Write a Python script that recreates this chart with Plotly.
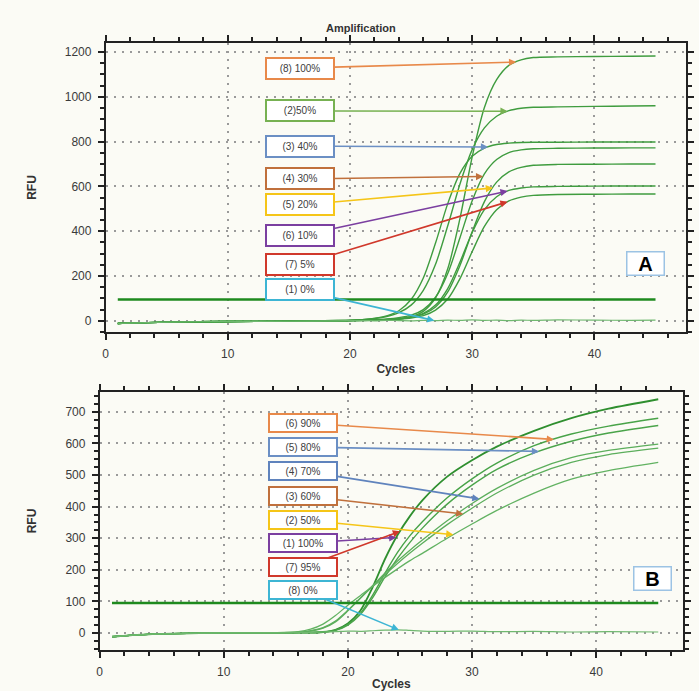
import numpy as np
import plotly.graph_objects as go

# ---------------- Panel A data (RFU per cycle) ----------------
cycles_a = [1, 5, 10, 15, 19, 21, 22, 23, 24, 25, 26, 27, 28, 29, 30, 31, 32, 33, 34, 35, 37, 40, 43, 45]
a_curve1 = [-12, -6, -3, -2, 0, 2, 3, 4, 8, 18, 42, 102, 232, 457, 732, 952, 1076, 1140, 1165, 1175, 1178, 1180, 1181, 1182]
a_curve2 = [-12, -6, -3, -2, 1, 5, 10, 19, 36, 70, 136, 252, 424, 611, 764, 861, 913, 938, 949, 953, 955, 957, 959, 960]
a_curve3 = [-12, -6, -3, -2, 1, 5, 11, 22, 45, 95, 191, 347, 523, 658, 734, 771, 787, 793, 796, 797, 797, 798, 798, 798]
a_curve4 = [-12, -6, -3, -2, 0, 3, 5, 8, 14, 25, 50, 105, 211, 371, 536, 656, 720, 751, 763, 768, 770, 771, 772, 772]
a_curve5 = [-12, -6, -3, -2, 0, 2, 3, 5, 9, 16, 30, 62, 129, 247, 397, 532, 619, 665, 685, 694, 698, 699, 700, 700]
a_curve6 = [-12, -6, -3, -2, 0, 2, 4, 6, 10, 17, 33, 70, 144, 262, 394, 496, 554, 582, 593, 598, 600, 601, 602, 602]
a_curve7 = [-12, -6, -3, -2, 0, 1, 3, 4, 7, 12, 23, 48, 97, 188, 309, 421, 496, 535, 552, 560, 564, 565, 566, 566]
a_negative = [-12, -6, -3, -2, 0, 1, 0, 2, 1, 0, 2, 1, 3, 2, 4, 2, 3, 1, 3, 2, 4, 3, 2, 3]
a_curves = [a_curve1, a_curve2, a_curve3, a_curve4, a_curve5, a_curve6, a_curve7]
a_threshold = 95

a_labels = ["(8) 100%", "(2)50%", "(3) 40%", "(4) 30%", "(5) 20%", "(6) 10%", "(7) 5%", "(1) 0%"]
a_targets = [(0, 33.6), (1, 32.9), (2, 31.3), (3, 30.9), (4, 31.7), (5, 32.9), (6, 32.9), (-1, 26.9)]

# ---------------- Panel B data ----------------
cycles_b = [1, 3, 6, 10, 14, 16, 17, 18, 19, 20, 21, 22, 23, 24, 25, 26, 28, 30, 32, 35, 38, 41, 45]
b_curve1 = [-12, -6, -2, 0, 0, 1, 1, 3, 10, 30, 70, 145, 235, 310, 370, 420, 495, 547, 590, 640, 680, 710, 740]
b_curve2 = [-12, -6, -2, 0, 0, 1, 1, 3, 9, 27, 62, 120, 190, 255, 308, 352, 428, 488, 538, 593, 630, 655, 680]
b_curve3 = [-12, -6, -2, 0, 0, 1, 1, 3, 8, 25, 58, 112, 178, 236, 287, 332, 408, 468, 518, 570, 607, 633, 657]
b_curve4 = [-12, -6, -2, 0, 0, 2, 6, 15, 35, 70, 110, 150, 190, 228, 262, 294, 355, 410, 458, 515, 555, 578, 598]
b_curve5 = [-12, -6, -2, 0, 0, 2, 7, 17, 38, 72, 110, 148, 185, 220, 253, 284, 343, 395, 443, 500, 540, 565, 585]
b_curve6 = [-12, -6, -2, 0, 1, 4, 12, 28, 55, 88, 118, 148, 176, 203, 229, 252, 300, 345, 388, 443, 487, 514, 540]
b_negative = [-12, -6, -2, 0, 0, 1, 2, 3, 4, 6, 5, 7, 9, 10, 8, 6, 5, 6, 4, 5, 3, 4, 3]
b_curves = [b_curve1, b_curve2, b_curve3, b_curve4, b_curve5, b_curve6]
b_threshold = 95

b_labels = ["(6) 90%", "(5) 80%", "(4) 70%", "(3) 60%", "(2) 50%", "(1) 100%", "(7) 95%", "(8) 0%"]
b_targets = [(1, 36.6), (2, 35.4), (3, 30.6), (4, 29.3), (5, 28.5), (0, 23.9), (0, 24.2), (-1, 24.1)]

# ---------------- styling ----------------
label_colors_a = ["#e8894a", "#77b152", "#6b8fc4", "#c0703c", "#f5c518", "#7b3fa0", "#d0382b", "#3db5d4"]
label_colors_b = ["#e8894a", "#6b8fc4", "#5f83bd", "#c0703c", "#f5c518", "#7b3fa0", "#d0382b", "#3db5d4"]
box_x_a, box_y_a = 15.9, [1128, 937, 780, 633, 517, 379, 250, 138]
box_x_b, box_y_b = 16.4, [665, 589, 513, 434, 358, 285, 209, 136]
curve_green = "#3f9c3f"
thresh_green = "#1e8a1e"
bg = "#fbfbf5"
font_family = "Liberation Sans, Arial"

fig = go.Figure()

def add_panel(cycles, curves, negative, threshold, xa, ya, widths, colors):
    for vals, w, c in zip(curves, widths, colors):
        fig.add_trace(go.Scatter(x=cycles, y=vals, mode="lines", xaxis=xa, yaxis=ya,
                                 line=dict(color=c, width=w, shape="spline", smoothing=0.8),
                                 showlegend=False, hoverinfo="skip"))
    fig.add_trace(go.Scatter(x=cycles, y=negative, mode="lines", xaxis=xa, yaxis=ya,
                             line=dict(color="#6fb86f", width=1.2, shape="spline", smoothing=0.8),
                             showlegend=False, hoverinfo="skip"))
    fig.add_trace(go.Scatter(x=[cycles[0], cycles[-1]], y=[threshold, threshold], mode="lines",
                             xaxis=xa, yaxis=ya, line=dict(color=thresh_green, width=2.6),
                             showlegend=False, hoverinfo="skip"))

add_panel(cycles_a, a_curves, a_negative, a_threshold, "x", "y",
          [1.4] * 7, [curve_green] * 7)
add_panel(cycles_b, b_curves, b_negative, b_threshold, "x2", "y2",
          [1.8, 1.4, 1.4, 1.3, 1.3, 1.3],
          ["#2f8f2f", "#48a348", "#4aa44a", "#5cae5c", "#5cae5c", "#62b262"])

annotations = []

def add_labels(labels, targets, curves, negative, cycles, colors, bx, bys, xr, yr, h):
    for text, (ci, tx), col, by in zip(labels, targets, colors, bys):
        series = negative if ci < 0 else curves[ci]
        ty = float(np.interp(tx, cycles, series))
        annotations.append(dict(
            x=tx, y=ty, xref=xr, yref=yr, ax=bx, ay=by, axref=xr, ayref=yr,
            text=text, showarrow=True, arrowhead=2, arrowsize=0.9, arrowwidth=1.6,
            arrowcolor=col, bordercolor=col, borderwidth=2, borderpad=2,
            bgcolor="white", width=62, height=h,
            font=dict(family=font_family, size=10, color="#404040")))

add_labels(a_labels, a_targets, a_curves, a_negative, cycles_a, label_colors_a,
           box_x_a, box_y_a, "x", "y", 15)
add_labels(b_labels, b_targets, b_curves, b_negative, cycles_b, label_colors_b,
           box_x_b, box_y_b, "x2", "y2", 12)

# panel letters
for letter, lx, ly, xr, yr in [("A", 44.2, 254, "x", "y"), ("B", 44.5, 174, "x2", "y2")]:
    annotations.append(dict(x=lx, y=ly, xref=xr, yref=yr, text="<b>%s</b>" % letter, showarrow=False,
                            bordercolor="#9cc3e4", borderwidth=1.5, bgcolor="white", width=34, height=20,
                            font=dict(family=font_family, size=20, color="black")))

annotations.append(dict(x=360 / 699, y=1 - 28 / 691, xref="paper", yref="paper",
                        xanchor="center", yanchor="middle",
                        text="<b>Amplification</b>", showarrow=False,
                        font=dict(family=font_family, size=11, color="#333")))

axis_common = dict(showline=True, linecolor="#222", linewidth=1.5, mirror="ticks",
                   ticks="outside", ticklen=6, tickwidth=1.5, tickcolor="#222",
                   showgrid=True, gridcolor="#9a9a9a", griddash="2px,6px", gridwidth=1.6,
                   zeroline=False, ticklabelstandoff=4,
                   tickfont=dict(family=font_family, size=12, color="#3a3a3a"),
                   title_font=dict(family=font_family, size=12, color="#333"))

fig.update_layout(
    width=699, height=691, margin=dict(l=0, r=0, t=0, b=0),
    paper_bgcolor=bg, plot_bgcolor=bg, showlegend=False,
    annotations=annotations,
    xaxis=dict(axis_common, domain=[103 / 699, 686 / 699], anchor="y", range=[0, 47.5],
               tickvals=[0, 10, 20, 30, 40],
               minor=dict(dtick=2, ticks="outside", ticklen=4, tickcolor="#222", showgrid=False),
               title=dict(text="<b>Cycles</b>", standoff=4)),
    yaxis=dict(axis_common, domain=[1 - 332 / 691, 1 - 43 / 691], anchor="x", range=[-50, 1240],
               tickvals=[0, 200, 400, 600, 800, 1000, 1200],
               minor=dict(dtick=50, ticks="outside", ticklen=4, tickcolor="#222", showgrid=False),
               title=dict(text="<b>RFU</b>", standoff=26)),
    xaxis2=dict(axis_common, domain=[97 / 699, 683 / 699], anchor="y2", range=[0, 47],
                tickvals=[0, 10, 20, 30, 40],
                minor=dict(dtick=2, ticks="outside", ticklen=4, tickcolor="#222", showgrid=False),
                title=dict(text="<b>Cycles</b>", standoff=2)),
    yaxis2=dict(axis_common, domain=[1 - 650 / 691, 1 - 392 / 691], anchor="x2", range=[-54, 763],
                tickvals=[0, 100, 200, 300, 400, 500, 600, 700],
                minor=dict(dtick=25, ticks="outside", ticklen=4, tickcolor="#222", showgrid=False),
                title=dict(text="<b>RFU</b>", standoff=26)),
)

fig.write_html("out.html")
